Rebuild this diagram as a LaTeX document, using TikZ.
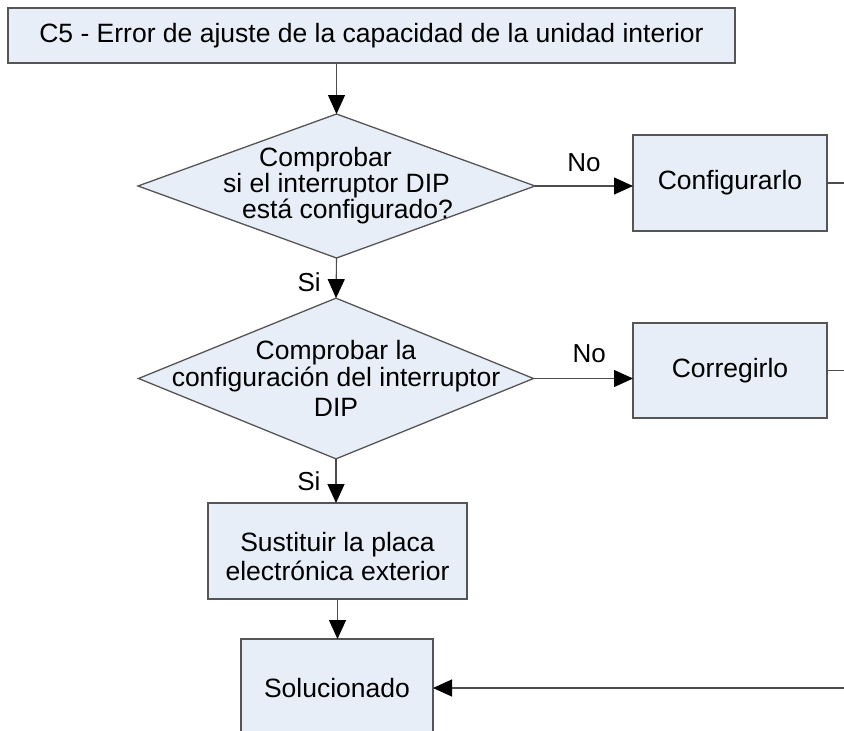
\documentclass[tikz,border=0pt]{standalone}
\usepackage{fontspec}
\setmainfont{Liberation Sans}
\usepackage{xcolor}
\definecolor{boxFill}{RGB}{232, 238, 248}
\definecolor{edgeGray}{RGB}{85, 85, 85}
\usetikzlibrary{positioning,shapes.geometric,arrows.meta}

\begin{document}
\begin{tikzpicture}[x=1pt, y=-1pt,
  box/.style={draw=edgeGray, line width=1.3pt, fill=boxFill, inner sep=0pt, outer sep=0pt,
              font=\fontsize{26.5}{29}\selectfont, align=center},
  dec/.style={box, diamond, font=\fontsize{26.5}{24}\selectfont,
              inner xsep=-90pt, inner ysep=-32pt},
  arr/.style={-{Triangle[length=19pt,width=17pt,color=black]}, draw=black!70, line width=1.1pt},
  lab/.style={font=\fontsize{26}{26}\selectfont, inner sep=0pt}
]
\useasboundingbox (0,0) rectangle (844,731);
\clip (0,0) rectangle (844,731);

%% main column
\node[box, minimum width=727pt, minimum height=55pt] (title) at (371.5,35.5)
  {C5 - Error de ajuste de la capacidad de la unidad interior};
\node[dec, minimum width=397pt, minimum height=144pt] (chkset) at (336.5,186)
  {Comprobar\hspace*{22pt}\\si el interruptor DIP\hspace*{6pt}\\\hspace*{22pt}está configurado?};
\node[dec, minimum width=395pt, minimum height=143pt] (chkcfg) at (336,378.5)
  {Comprobar la\\[1pt]configuración del interruptor\\[6pt]DIP};
\node[box, minimum width=259pt, minimum height=96pt] (board) at (337.5,551)
  {\rule{0pt}{31pt}Sustituir la placa\\electrónica exterior};
\node[box, minimum width=192pt, minimum height=98pt] (done) at (337,688) {Solucionado};

%% right column
\node[box, minimum width=194pt, minimum height=96pt] (config) at (730,183) {Configurarlo};
\node[box, minimum width=194pt, minimum height=95pt] (fix) at (730,370.5) {Corregirlo};
\coordinate (rside) at (870,0);

\draw[arr] (title.south -| chkset.north) -- (chkset.north);
\draw[arr] (chkset.south) -- (chkcfg.north) node[lab, pos=0.6, left=15pt] {Si};
\draw[arr] (chkcfg.south) -- (chkcfg.south |- board.north) node[lab, midway, left=15pt] {Si};
\draw[arr] (board.south) -- (board.south |- done.north);
\draw[arr] (chkset.east) -- (chkset.east -| config.west) node[lab, midway, above=14pt] {No};
\draw[arr] (chkcfg.east) -- (chkcfg.east -| fix.west) node[lab, midway, above=15pt, xshift=6pt] {No};
\draw[arr] (config.east) -- (config.east -| rside) |- (done.east);
\draw[arr] (fix.east) -- (fix.east -| rside);
\end{tikzpicture}
\end{document}
